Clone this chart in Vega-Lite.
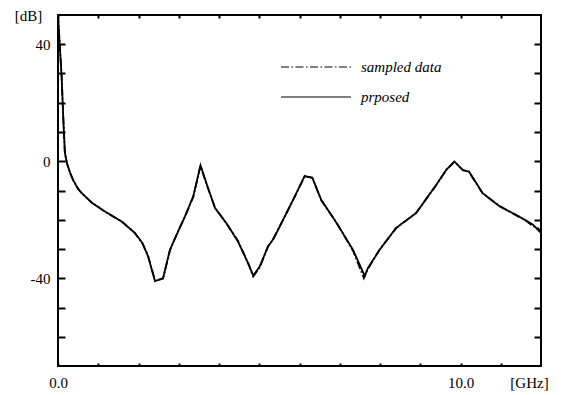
{
  "$schema": "https://vega.github.io/schema/vega-lite/v6.json",
  "width": 483,
  "height": 351,
  "autosize": {"type": "none"},
  "padding": {"left": 58, "top": 15, "right": 47, "bottom": 29},
  "background": "white",
  "config": {
    "view": {"stroke": "black", "strokeWidth": 2},
    "font": "Liberation Serif",
    "axis": {"labelFont": "Liberation Serif", "titleFont": "Liberation Serif", "labelFontSize": 15, "titleFontSize": 15, "labelColor": "black", "titleColor": "black", "tickColor": "black", "grid": false, "domain": false, "titleFontWeight": "normal", "labelFlush": false},
    "legend": {"labelFont": "Liberation Serif", "labelFontSize": 15, "labelFontStyle": "italic", "labelColor": "black"}
  },
  "datasets": {
    "pts": [
      {"f": 0.0, "db": 50, "series": "prposed"},
      {"f": 0.05, "db": 38, "series": "prposed"},
      {"f": 0.09, "db": 29, "series": "prposed"},
      {"f": 0.13, "db": 15, "series": "prposed"},
      {"f": 0.17, "db": 3, "series": "prposed"},
      {"f": 0.22, "db": -0.6, "series": "prposed"},
      {"f": 0.3, "db": -3.9, "series": "prposed"},
      {"f": 0.38, "db": -6.5, "series": "prposed"},
      {"f": 0.5, "db": -9.5, "series": "prposed"},
      {"f": 0.6, "db": -11, "series": "prposed"},
      {"f": 0.84, "db": -14.2, "series": "prposed"},
      {"f": 1.17, "db": -17.2, "series": "prposed"},
      {"f": 1.58, "db": -20.6, "series": "prposed"},
      {"f": 1.91, "db": -24.5, "series": "prposed"},
      {"f": 2.1, "db": -28, "series": "prposed"},
      {"f": 2.24, "db": -32.6, "series": "prposed"},
      {"f": 2.41, "db": -41, "series": "prposed"},
      {"f": 2.61, "db": -40, "series": "prposed"},
      {"f": 2.78, "db": -30.3, "series": "prposed"},
      {"f": 3.0, "db": -23.5, "series": "prposed"},
      {"f": 3.15, "db": -19, "series": "prposed"},
      {"f": 3.36, "db": -12, "series": "prposed"},
      {"f": 3.54, "db": -1.4, "series": "prposed"},
      {"f": 3.7, "db": -8, "series": "prposed"},
      {"f": 3.9, "db": -16, "series": "prposed"},
      {"f": 4.2, "db": -21.5, "series": "prposed"},
      {"f": 4.47, "db": -27.4, "series": "prposed"},
      {"f": 4.72, "db": -34.8, "series": "prposed"},
      {"f": 4.85, "db": -39.1, "series": "prposed"},
      {"f": 5.01, "db": -36, "series": "prposed"},
      {"f": 5.22, "db": -29.1, "series": "prposed"},
      {"f": 5.34, "db": -26.8, "series": "prposed"},
      {"f": 5.51, "db": -22.3, "series": "prposed"},
      {"f": 5.84, "db": -13.2, "series": "prposed"},
      {"f": 6.13, "db": -5, "series": "prposed"},
      {"f": 6.32, "db": -5.7, "series": "prposed"},
      {"f": 6.54, "db": -13.2, "series": "prposed"},
      {"f": 6.92, "db": -21.1, "series": "prposed"},
      {"f": 7.33, "db": -30.3, "series": "prposed"},
      {"f": 7.62, "db": -39.2, "series": "prposed"},
      {"f": 7.7, "db": -36.5, "series": "prposed"},
      {"f": 7.99, "db": -30.3, "series": "prposed"},
      {"f": 8.4, "db": -22.8, "series": "prposed"},
      {"f": 8.9, "db": -17.7, "series": "prposed"},
      {"f": 9.4, "db": -8, "series": "prposed"},
      {"f": 9.65, "db": -2.9, "series": "prposed"},
      {"f": 9.85, "db": -0.1, "series": "prposed"},
      {"f": 10.06, "db": -3.1, "series": "prposed"},
      {"f": 10.21, "db": -3.5, "series": "prposed"},
      {"f": 10.55, "db": -10.9, "series": "prposed"},
      {"f": 10.97, "db": -15.4, "series": "prposed"},
      {"f": 11.46, "db": -18.9, "series": "prposed"},
      {"f": 11.8, "db": -21.7, "series": "prposed"},
      {"f": 12.0, "db": -24.5, "series": "prposed"},
      {"f": 0.0, "db": 50, "series": "sampled data"},
      {"f": 0.05, "db": 38.5, "series": "sampled data"},
      {"f": 0.09, "db": 29, "series": "sampled data"},
      {"f": 0.13, "db": 15.5, "series": "sampled data"},
      {"f": 0.17, "db": 3, "series": "sampled data"},
      {"f": 0.22, "db": -0.5, "series": "sampled data"},
      {"f": 0.3, "db": -4, "series": "sampled data"},
      {"f": 0.38, "db": -6.6, "series": "sampled data"},
      {"f": 0.5, "db": -9.4, "series": "sampled data"},
      {"f": 0.6, "db": -11.1, "series": "sampled data"},
      {"f": 0.84, "db": -14.1, "series": "sampled data"},
      {"f": 1.17, "db": -17.3, "series": "sampled data"},
      {"f": 1.58, "db": -20.5, "series": "sampled data"},
      {"f": 1.91, "db": -24.6, "series": "sampled data"},
      {"f": 2.1, "db": -28.2, "series": "sampled data"},
      {"f": 2.24, "db": -32.4, "series": "sampled data"},
      {"f": 2.41, "db": -40.8, "series": "sampled data"},
      {"f": 2.61, "db": -40.1, "series": "sampled data"},
      {"f": 2.78, "db": -30.5, "series": "sampled data"},
      {"f": 3.0, "db": -23.4, "series": "sampled data"},
      {"f": 3.15, "db": -19.1, "series": "sampled data"},
      {"f": 3.36, "db": -12.2, "series": "sampled data"},
      {"f": 3.54, "db": -1.6, "series": "sampled data"},
      {"f": 3.7, "db": -8.2, "series": "sampled data"},
      {"f": 3.9, "db": -15.8, "series": "sampled data"},
      {"f": 4.2, "db": -21.6, "series": "sampled data"},
      {"f": 4.47, "db": -27.2, "series": "sampled data"},
      {"f": 4.72, "db": -34.6, "series": "sampled data"},
      {"f": 4.85, "db": -39.4, "series": "sampled data"},
      {"f": 5.01, "db": -36.4, "series": "sampled data"},
      {"f": 5.22, "db": -29.0, "series": "sampled data"},
      {"f": 5.34, "db": -26.9, "series": "sampled data"},
      {"f": 5.51, "db": -22.2, "series": "sampled data"},
      {"f": 5.84, "db": -13.3, "series": "sampled data"},
      {"f": 6.13, "db": -5.1, "series": "sampled data"},
      {"f": 6.32, "db": -5.6, "series": "sampled data"},
      {"f": 6.54, "db": -13.4, "series": "sampled data"},
      {"f": 6.92, "db": -21.0, "series": "sampled data"},
      {"f": 7.33, "db": -30.6, "series": "sampled data"},
      {"f": 7.6, "db": -40, "series": "sampled data"},
      {"f": 7.7, "db": -36.8, "series": "sampled data"},
      {"f": 7.99, "db": -30.2, "series": "sampled data"},
      {"f": 8.4, "db": -22.9, "series": "sampled data"},
      {"f": 8.9, "db": -17.6, "series": "sampled data"},
      {"f": 9.4, "db": -8.1, "series": "sampled data"},
      {"f": 9.65, "db": -2.8, "series": "sampled data"},
      {"f": 9.85, "db": -0.2, "series": "sampled data"},
      {"f": 10.06, "db": -3.0, "series": "sampled data"},
      {"f": 10.21, "db": -3.6, "series": "sampled data"},
      {"f": 10.55, "db": -11.0, "series": "sampled data"},
      {"f": 10.97, "db": -15.3, "series": "sampled data"},
      {"f": 11.46, "db": -19.1, "series": "sampled data"},
      {"f": 11.6, "db": -20.0, "series": "sampled data"},
      {"f": 11.8, "db": -22.2, "series": "sampled data"},
      {"f": 11.9, "db": -22.6, "series": "sampled data"},
      {"f": 12.0, "db": -24.0, "series": "sampled data"}
    ]
  },
  "data": {"name": "pts"},
  "resolve": {"axis": {"x": "independent", "y": "independent"}},
  "layer": [
    {
      "mark": {"type": "line", "color": "black", "strokeWidth": 1.8},
      "encoding": {
        "x": {"field": "f", "type": "quantitative", "scale": {"domain": [0, 12], "nice": false, "zero": false},
          "axis": {"orient": "bottom", "values": [0,1,2,3,4,5,6,7,8,9,10,11], "tickSize": -3, "tickWidth": 2, "labelPadding": 12,
            "labelExpr": "datum.value == 0 ? '0.0' : datum.value == 10 ? '10.0' : ''",
            "title": "[GHz]", "titleAngle": 0, "titleX": 471, "titleY": 16, "titleAlign": "center", "titleBaseline": "middle"}},
        "y": {"field": "db", "type": "quantitative", "scale": {"domain": [-70, 50], "nice": false, "zero": false},
          "axis": {"orient": "left", "values": [-60,-50,-40,-30,-20,-10,0,10,20,30,40], "tickSize": -7, "tickWidth": 2, "labelPadding": 15,
            "labelExpr": "datum.value == 40 ? '40' : datum.value == 0 ? '0' : datum.value == -40 ? '-40' : ''",
            "title": "[dB]", "titleAngle": 0, "titleX": -30, "titleY": 0, "titleAlign": "center", "titleBaseline": "middle"}},
        "strokeDash": {"field": "series", "type": "nominal",
          "scale": {"domain": ["sampled data", "prposed"], "range": [[8, 2.5, 1.5, 2.5], [1, 0]]},
          "legend": {"title": null, "orient": "none", "legendX": 222, "legendY": 44, "symbolType": "M-1,0H9", "symbolSize": 196, "symbolStrokeColor": "black", "symbolStrokeWidth": 1.2, "labelOffset": 65, "rowPadding": 14}}
      }
    },
    {
      "mark": {"type": "line", "color": "black", "strokeOpacity": 0},
      "encoding": {
        "x": {"field": "f", "type": "quantitative", "scale": {"domain": [0, 12], "nice": false, "zero": false},
          "axis": {"orient": "top", "values": [0,1,2,3,4,5,6,7,8,9,10,11], "tickSize": -3, "tickWidth": 2, "labels": false, "title": null}},
        "y": {"field": "db", "type": "quantitative", "scale": {"domain": [-70, 50], "nice": false, "zero": false},
          "axis": {"orient": "right", "values": [-60,-50,-40,-30,-20,-10,0,10,20,30,40], "tickSize": -7, "tickWidth": 2, "labels": false, "title": null}},
        "detail": {"field": "series", "type": "nominal"}
      }
    }
  ]
}
